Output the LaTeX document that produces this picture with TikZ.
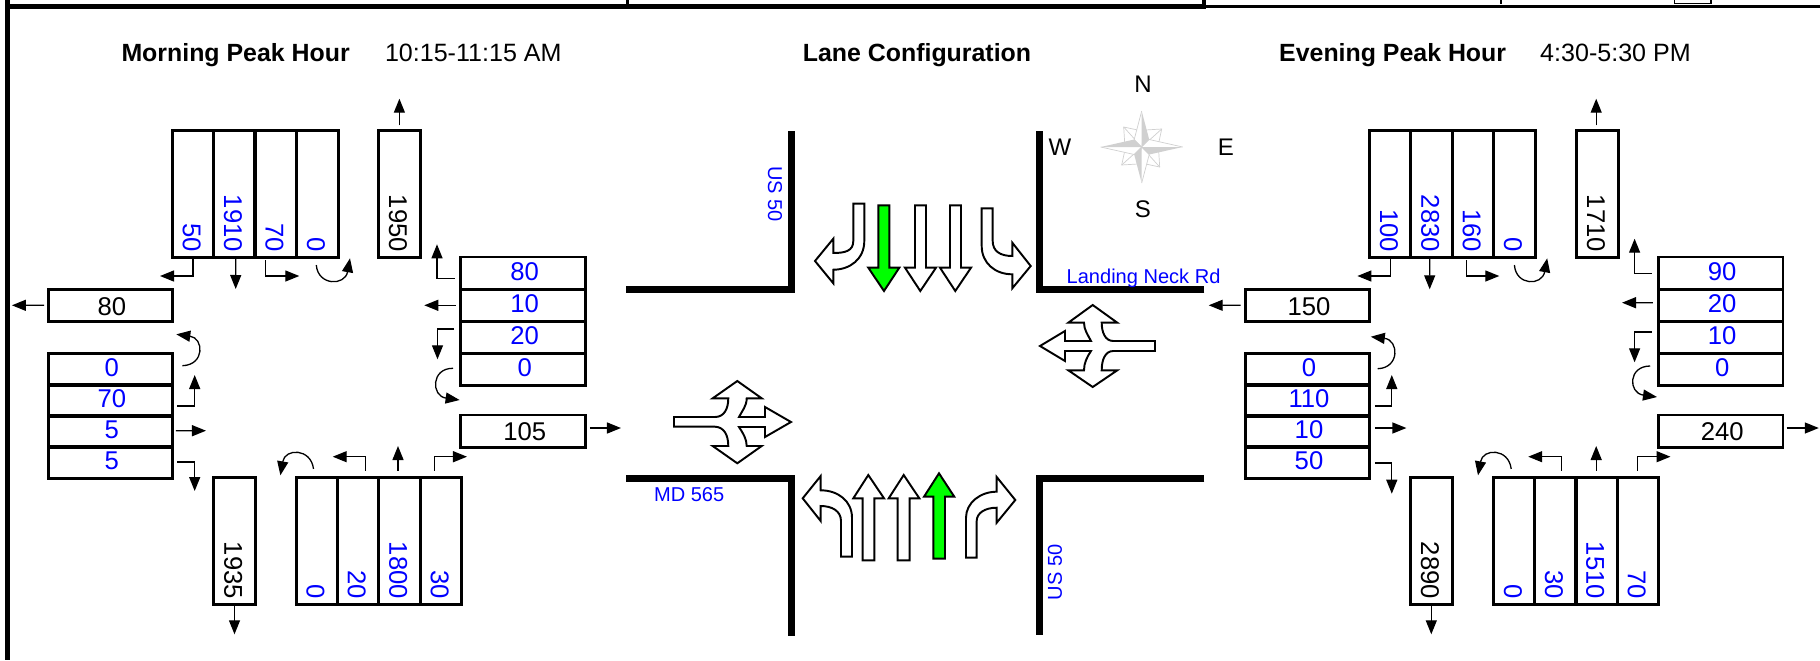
\documentclass[tikz,border=0pt]{standalone}
\usepackage{fontspec}
\setmainfont{Liberation Sans}
\usetikzlibrary{arrows.meta,calc}
\definecolor{numblue}{RGB}{0,0,255}
\definecolor{lanegreen}{RGB}{0,255,0}
\definecolor{compassgrey}{RGB}{208,208,208}
\newcommand{\numfont}{\fontsize{7.3}{9}\selectfont}
\newcommand{\letterfont}{\fontsize{6.83}{8}\selectfont}
\newcommand{\roadfont}{\fontsize{5.7}{7}\selectfont}
\newcommand{\titlefont}{\fontsize{7.08}{9}\selectfont\bfseries}
\newcommand{\timefont}{\fontsize{7.13}{9}\selectfont}
\tikzset{
  hcell/.style={draw,line width=0.85pt,minimum width=1.245cm,minimum height=0.32cm,inner sep=0pt,text height=0.142cm,text depth=0pt,font=\numfont,execute at begin node={\kern0.03cm}},
  exitcell/.style={hcell,text height=0.19cm},
  vcell/.style={draw,line width=0.85pt,rotate=-90,minimum height=0.415cm,inner xsep=0.055cm,inner ysep=0pt,text width=1.155cm,align=right,text height=0.204cm,text depth=0pt,font=\numfont},
  vol/.style={text=numblue},
  flowarrow/.style={->,line width=0.37pt},
  road/.style={line width=1.9pt,line join=miter},
  lanearrow/.style={draw,fill=white,line width=0.55pt,line join=miter},
  greenarrow/.style={lanearrow,fill=lanegreen},
  roadlabel/.style={text=numblue,font=\roadfont,inner sep=0pt},
  compassletter/.style={font=\letterfont,inner sep=0pt},
}
\begin{document}
\begin{tikzpicture}[x=0.01cm,y=-0.01cm,>={Triangle[length=0.14cm,width=0.11cm]}]
\useasboundingbox (0,-1) rectangle (1820,659);
% sheet frame
\draw[line width=1.3pt] (7.5,-1) -- (7.5,659);
\draw[line width=1.35pt] (7.5,5.4) -- (1205,5.4);
\draw[line width=0.9pt] (627.5,-1) -- (627.5,5.4);
\draw[line width=1.4pt] (1204,-1) -- (1204,8);
\draw[line width=0.8pt] (1205,5.4) -- (1820,5.4);
\draw[line width=0.3pt] (1501,-1) -- (1501,3);
\draw[line width=0.3pt] (1674.5,-1) -- (1674.5,2.3) -- (1711,2.3) -- (1711,-1);
% headings
\node[font=\titlefont,anchor=base west,inner sep=0pt] (mTitle) at (120.8,60.7) {Morning Peak Hour};
\node[font=\timefont,anchor=base west,inner sep=0pt] (mTime) at (384.3,60.7) {10:15-11:15 AM};
\node[font=\titlefont,anchor=base west,inner sep=0pt] (laneTitle) at (802.2,60.7) {Lane Configuration};
\node[font=\titlefont,anchor=base west,inner sep=0pt] (eTitle) at (1278.5,60.7) {Evening Peak Hour};
\node[font=\timefont,anchor=base west,inner sep=0pt] (eTime) at (1539.5,60.7) {4:30-5:30 PM};
% morning volumes
\node[vcell,vol] (mSB1) at (193,193.25) {50};
\node[vcell,vol] (mSB2) at (234.25,193.25) {1910};
\node[vcell,vol] (mSB3) at (275.75,193.25) {70};
\node[vcell,vol] (mSB4) at (317.3,193.25) {0};
\node[vcell] (mSBo) at (399.4,193.25) {1950};
\node[exitcell] (mW) at (110.4,304.5) {80};
\node[hcell,vol] (mWB1) at (523.2,272) {80};
\node[hcell,vol] (mWB2) at (523.2,304) {10};
\node[hcell,vol] (mWB3) at (523.2,336) {20};
\node[hcell,vol] (mWB4) at (523.2,368) {0};
\node[exitcell] (mE) at (523.2,430) {105};
\node[hcell,vol] (mEB1) at (110.3,368.3) {0};
\node[hcell,vol] (mEB2) at (110.3,399.5) {70};
\node[hcell,vol] (mEB3) at (110.3,430.5) {5};
\node[hcell,vol] (mEB4) at (110.3,461.4) {5};
\node[vcell] (mNBo) at (234.5,540.2) {1935};
\node[vcell,vol] (mNB1) at (316.8,540.2) {0};
\node[vcell,vol] (mNB2) at (358.2,540.2) {20};
\node[vcell,vol] (mNB3) at (399.6,540.2) {1800};
\node[vcell,vol] (mNB4) at (441,540.2) {30};
% morning movements
\coordinate (mSB1e) at (160,275);
\coordinate (mSB2e) at (235.7,288);
\coordinate (mSB3e) at (299.3,275);
\coordinate (mSB4e) at (350,257.3);
\coordinate (mSBoe) at (399.4,97.7);
\coordinate (mWB1e) at (437,243.3);
\coordinate (mWB2e) at (424.3,304.3);
\coordinate (mWB3e) at (437.5,358.3);
\coordinate (mWB4e) at (459.6,399);
\coordinate (mEe) at (621,427);
\coordinate (mWe) at (11.9,304.3);
\coordinate (mEB1e) at (176.3,333.3);
\coordinate (mEB2e) at (194.7,374);
\coordinate (mEB3e) at (206,429.7);
\coordinate (mEB4e) at (194.7,490);
\coordinate (mNBoe) at (234.5,633.3);
\coordinate (mNB1e) at (280.4,474.3);
\coordinate (mNB2e) at (332.7,455.7);
\coordinate (mNB3e) at (398,445);
\coordinate (mNB4e) at (467,455.7);
\draw[flowarrow] (mSB1.east) |- (mSB1e);
\draw[flowarrow] ($(mSB2.east)+(1.5,0)$) -- (mSB2e);
\draw[flowarrow] ($(mSB3.east)+(-10,1)$) |- (mSB3e);
\draw[flowarrow] ($(mSB4.east)+(-1,6)$) .. controls (318,285) and (345,285) .. (mSB4e);
\draw[flowarrow] ($(mSBo.west)+(0,-4)$) -- (mSBoe);
\draw[flowarrow] ($(mWB1.west)+(-4.7,5.7)$) -| (mWB1e);
\draw[flowarrow] ($(mWB2.west)+(-3.5,0.3)$) -- (mWB2e);
\draw[flowarrow] ($(mWB3.west)+(-5.4,-8)$) -| (mWB3e);
\draw[flowarrow] ($(mWB4.west)+(-6.4,-0.7)$) .. controls (431,367) and (431,395) .. (mWB4e);
\draw[flowarrow] ($(mE.east)+(3,-3)$) -- (mEe);
\draw[flowarrow] ($(mW.west)+(-2.5,-0.2)$) -- (mWe);
\draw[flowarrow] ($(mEB1.east)+(8.3,-3.6)$) .. controls (205,364) and (204,337) .. (mEB1e);
\draw[flowarrow] ($(mEB2.east)+(3,5.5)$) -| (mEB2e);
\draw[flowarrow] ($(mEB3.east)+(1.8,-0.8)$) -- (mEB3e);
\draw[flowarrow] ($(mEB4.east)+(3,-0.4)$) -| (mEB4e);
\draw[flowarrow] (mNBo.east) -- (mNBoe);
\draw[flowarrow] ($(mNB1.west)+(-3.3,-7.5)$) .. controls (311,447) and (285,447) .. (mNB1e);
\draw[flowarrow] ($(mNB2.west)+(7.5,-5.8)$) |- (mNB2e);
\draw[flowarrow] ($(mNB3.west)+(-1.6,-5.8)$) -- (mNB3e);
\draw[flowarrow] ($(mNB4.west)+(-6.7,-5.8)$) |- (mNB4e);
% evening volumes
\node[vcell,vol] (eSB1) at (1390.2,193.25) {100};
\node[vcell,vol] (eSB2) at (1431.5,193.25) {2830};
\node[vcell,vol] (eSB3) at (1473,193.25) {160};
\node[vcell,vol] (eSB4) at (1514.4,193.25) {0};
\node[vcell] (eSBo) at (1597.4,193.25) {1710};
\node[exitcell] (eW) at (1307.5,304.5) {150};
\node[hcell,vol] (eWB1) at (1720.7,272) {90};
\node[hcell,vol] (eWB2) at (1720.7,304) {20};
\node[hcell,vol] (eWB3) at (1720.7,336) {10};
\node[hcell,vol] (eWB4) at (1720.7,368) {0};
\node[exitcell] (eE) at (1720.7,430) {240};
\node[hcell,vol] (eEB1) at (1307.5,368.3) {0};
\node[hcell,vol] (eEB2) at (1307.5,399.5) {110};
\node[hcell,vol] (eEB3) at (1307.5,430.5) {10};
\node[hcell,vol] (eEB4) at (1307.5,461.4) {50};
\node[vcell] (eNBo) at (1431.3,540.2) {2890};
\node[vcell,vol] (eNB1) at (1514.2,540.2) {0};
\node[vcell,vol] (eNB2) at (1555.3,540.2) {30};
\node[vcell,vol] (eNB3) at (1596.6,540.2) {1510};
\node[vcell,vol] (eNB4) at (1638.1,540.2) {70};
% evening movements
\coordinate (eSB1e) at (1357.4,275);
\coordinate (eSB2e) at (1429.7,288.3);
\coordinate (eSB3e) at (1499.3,275);
\coordinate (eSB4e) at (1547.2,257.3);
\coordinate (eSBoe) at (1596.2,97.7);
\coordinate (eWB1e) at (1634.6,237.7);
\coordinate (eWB2e) at (1622,301.7);
\coordinate (eWB3e) at (1634.6,361.3);
\coordinate (eWB4e) at (1657,396);
\coordinate (eEe) at (1818.8,427);
\coordinate (eWe) at (1208.7,304.3);
\coordinate (eEB1e) at (1370.8,335.7);
\coordinate (eEB2e) at (1391.8,374);
\coordinate (eEB3e) at (1406.4,427);
\coordinate (eEB4e) at (1391.8,492.7);
\coordinate (eNBoe) at (1431.3,633.3);
\coordinate (eNB1e) at (1478,474.3);
\coordinate (eNB2e) at (1528.2,455.7);
\coordinate (eNB3e) at (1596.2,445);
\coordinate (eNB4e) at (1670.5,455.7);
\draw[flowarrow] (eSB1.east) |- (eSB1e);
\draw[flowarrow] ($(eSB2.east)+(-1.8,0)$) -- (eSB2e);
\draw[flowarrow] ($(eSB3.east)+(-6.5,1)$) |- (eSB3e);
\draw[flowarrow] ($(eSB4.east)+(0,6)$) .. controls (1516,285) and (1542,285) .. (eSB4e);
\draw[flowarrow] ($(eSBo.west)+(-1.2,-4)$) -- (eSBoe);
\draw[flowarrow] ($(eWB1.west)+(-5.2,0.3)$) -| (eWB1e);
\draw[flowarrow] ($(eWB2.west)+(-4,-2.3)$) -- (eWB2e);
\draw[flowarrow] ($(eWB3.west)+(-5.2,-5)$) -| (eWB3e);
\draw[flowarrow] ($(eWB4.west)+(-6.7,-3)$) .. controls (1628,365) and (1628,392) .. (eWB4e);
\draw[flowarrow] ($(eE.east)+(2.2,-3)$) -- (eEe);
\draw[flowarrow] ($(eW.west)+(-3.2,-0.2)$) -- (eWe);
\draw[flowarrow] ($(eEB1.east)+(6.4,-0.6)$) .. controls (1400,367) and (1399,339) .. (eEB1e);
\draw[flowarrow] ($(eEB2.east)+(3.6,5.5)$) -| (eEB2e);
\draw[flowarrow] ($(eEB3.east)+(3.6,-3.5)$) -- (eEB3e);
\draw[flowarrow] ($(eEB4.east)+(3.6,0.6)$) -| (eEB4e);
\draw[flowarrow] (eNBo.east) -- (eNBoe);
\draw[flowarrow] ($(eNB1.west)+(-3,-7.5)$) .. controls (1508.7,447) and (1483,447) .. (eNB1e);
\draw[flowarrow] ($(eNB2.west)+(6.5,-5.8)$) |- (eNB2e);
\draw[flowarrow] ($(eNB3.west)+(-0.4,-5.8)$) -- (eNB3e);
\draw[flowarrow] ($(eNB4.west)+(-0.4,-5.8)$) |- (eNB4e);
% road edges
\draw[road] (626,288.3) -- (791.8,288.3) -- (791.8,130);
\draw[road] (1204.4,288.3) -- (1039.5,288.3) -- (1039.5,130);
\draw[road] (626,477.5) -- (791.8,477.5) -- (791.8,634.7);
\draw[road] (1204.4,477.5) -- (1039.5,477.5) -- (1039.5,633.7);
\node[roadlabel,rotate=-90] (usNorth) at (775,193) {US 50};
\node[roadlabel,rotate=90] (usSouth) at (1055,571.5) {US 50};
\node[roadlabel,anchor=base west] (landing) at (1066,282.7) {Landing Neck Rd};
\node[roadlabel,anchor=base west] (mdRoad) at (653.4,500) {MD 565};
% compass
\node[compassletter] (north) at (1143,83) {N};
\node[compassletter] (south) at (1143,208) {S};
\node[compassletter] (west) at (1060,146) {W};
\node[compassletter] (east) at (1225.8,146) {E};
\begin{scope}[shift={(1141.7,146)}]
\foreach \ang/\len in {0/36,90/41,180/36,270/41} {
  \begin{scope}[rotate=\ang]
  \draw[compassgrey,fill=white,line width=0.2pt] (0,0) -- (4,-17) -- (20,-18) -- (17,-4) -- cycle;
  \draw[compassgrey,line width=0.2pt] (0,0) -- (20,-18);
  \end{scope}
}
\foreach \ang/\len in {0/36,90/41,180/36,270/41} {
  \begin{scope}[rotate=\ang]
  \fill[white] (0,0) -- (-7.5,-7.5) -- (0,-\len) -- cycle;
  \draw[compassgrey,line width=0.2pt] (0,0) -- (-7.5,-7.5) -- (0,-\len);
  \fill[compassgrey] (0,0) -- (0,-\len) -- (7.5,-7.5) -- cycle;
  \end{scope}
}
\end{scope}
% southbound lane arrows
\draw[lanearrow] (853.3,202.7) -- (864.3,202.7) -- (864.3,240) .. controls (864.3,258) and (850,268.7) .. (833.3,268.7) -- (833.3,282.3) -- (815,260) -- (833.3,237.7) -- (833.3,252) .. controls (845,252) and (853.3,250) .. (853.3,240) -- cycle;
\draw[greenarrow] (878.3,204.3) -- (889.3,204.3) -- (889.3,266.7) -- (899.3,266.7) -- (884,290) -- (868.3,266.7) -- (878.3,266.7) -- cycle;
\draw[lanearrow] (915,204.3) -- (926,204.3) -- (926,266.7) -- (936,266.7) -- (920.3,290) -- (905,266.7) -- (915,266.7) -- cycle;
\draw[lanearrow] (950,204.3) -- (961,204.3) -- (961,266.7) -- (971,266.7) -- (955.3,290) -- (940,266.7) -- (950,266.7) -- cycle;
\draw[lanearrow] (981.7,207.3) -- (992.7,207.3) -- (992.7,240) .. controls (992.7,250) and (1000,255) .. (1012.3,255) -- (1012.3,241.7) -- (1030.7,265) -- (1012.3,287.3) -- (1012.3,273.3) .. controls (995,273.3) and (981.7,262) .. (981.7,245) -- cycle;
% northbound lane arrows
\draw[lanearrow] (841,555.7) -- (852,555.7) -- (852,516.7) .. controls (852,500) and (838,489.3) .. (820.7,489.3) -- (820.7,475) -- (802.7,497.3) -- (820.7,520) -- (820.7,505) .. controls (832,505) and (841,510) .. (841,520) -- cycle;
\draw[lanearrow] (862.7,559.3) -- (874.3,559.3) -- (874.3,497.3) -- (884,497.3) -- (868.3,474) -- (853.3,497.3) -- (862.7,497.3) -- cycle;
\draw[lanearrow] (897.7,559.3) -- (909.7,559.3) -- (909.7,497.3) -- (919.3,497.3) -- (903.7,474) -- (888.7,497.3) -- (897.7,497.3) -- cycle;
\draw[greenarrow] (933.3,557.7) -- (945,557.7) -- (945,495.7) -- (954.3,495.7) -- (939,472.3) -- (924,495.7) -- (933.3,495.7) -- cycle;
\draw[lanearrow] (966,556.7) -- (976.7,556.7) -- (976.7,520) .. controls (976.7,512) and (985,506.7) .. (996.7,506.7) -- (996.7,521.7) -- (1015.3,499) -- (996.7,476) -- (996.7,490.7) .. controls (980,490.7) and (966,502) .. (966,516.7) -- cycle;
% eastbound and westbound lane arrows
\draw[lanearrow] (674,416) -- (715,416) .. controls (724,416) and (728.3,408) .. (728.3,397.3) -- (712.7,397.3) -- (737.3,380) -- (761.7,397.3) -- (746.7,397.3) .. controls (746.7,405) and (742,410) .. (739,416) -- (765,416) -- (765,406) -- (791,421) -- (765,436) -- (765,426) -- (739,426) .. controls (743,432) and (746.7,438) .. (746.7,445) -- (761.7,445) -- (737.3,462.3) -- (712.7,445) -- (728.3,445) .. controls (728.3,434) and (724,426) .. (715,425.7) -- (674,425.7) -- cycle;
\draw[lanearrow] (1155,340) -- (1113.3,340) .. controls (1105,340) and (1101.7,331) .. (1101.7,321.7) -- (1117.3,321.7) -- (1092.7,304) -- (1068.3,321.7) -- (1084,321.7) .. controls (1084,329) and (1088,334) .. (1091,340) -- (1065,340) -- (1065,330) -- (1040,345) -- (1065,360) -- (1065,350) -- (1091,350) .. controls (1087,356) and (1084,362) .. (1084,369.3) -- (1068.3,369.3) -- (1092.7,386) -- (1117.3,369.3) -- (1101.7,369.3) .. controls (1101.7,359) and (1105,350) .. (1113.3,350) -- (1155,350) -- cycle;
\end{tikzpicture}
\end{document}
